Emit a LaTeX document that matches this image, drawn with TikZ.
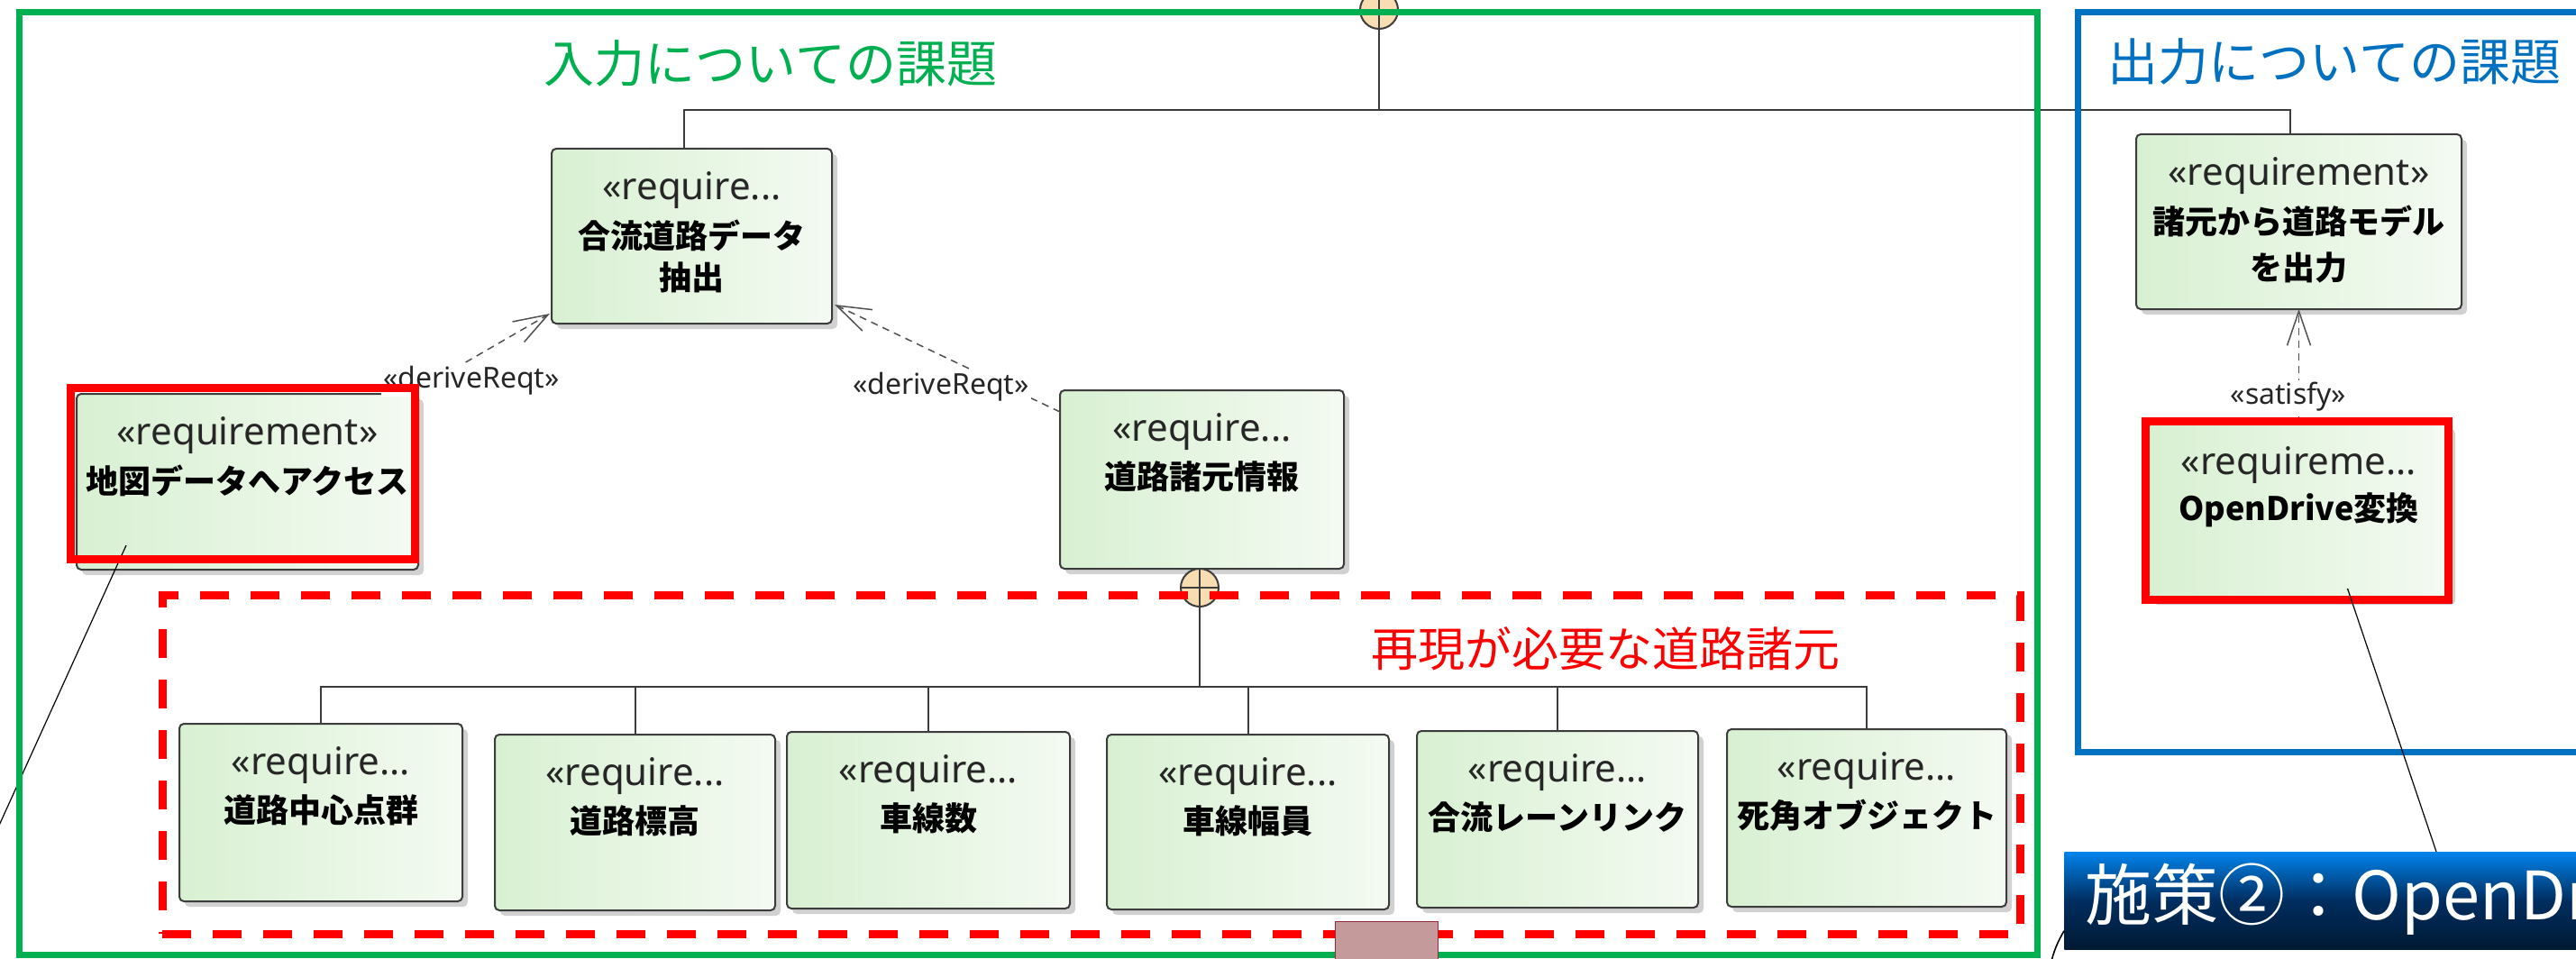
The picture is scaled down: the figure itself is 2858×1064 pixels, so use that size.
\documentclass[tikz,border=0pt]{standalone}
\usepackage{fontspec}
\setmainfont{Noto Sans CJK JP}
\newfontfamily\latf{Noto Sans}
\usetikzlibrary{arrows.meta,calc,shadows}
\definecolor{gfr}{RGB}{0,176,80}
\definecolor{bfr}{RGB}{0,112,192}
\definecolor{edgec}{RGB}{60,60,60}
\definecolor{boxl}{RGB}{216,240,210}
\definecolor{boxr}{RGB}{244,250,242}
\definecolor{peach}{RGB}{248,221,178}
\definecolor{dashc}{RGB}{80,80,80}
\definecolor{brownsq}{RGB}{196,154,154}
\definecolor{brownln}{RGB}{150,40,60}
\definecolor{bantop}{RGB}{0,132,236}
\definecolor{banmid}{RGB}{0,45,95}
\definecolor{banbot}{RGB}{0,26,52}
\definecolor{hlred}{RGB}{255,0,0}
\tikzset{
  reqbox/.style={draw=edgec, line width=1pt, rounded corners=2.5pt, left color=boxl, right color=boxr,
    inner sep=0pt, outer sep=0pt,
    drop shadow={shadow xshift=3pt, shadow yshift=-3pt, fill=black, opacity=0.18}},
  stereo/.style={font=\latf\fontsize{21}{24}\selectfont, text=black!85, inner sep=0pt},
  reqname/.style={font=\bfseries\fontsize{18}{22}\selectfont, text=black, inner sep=0pt},
  conn/.style={draw=edgec, line width=1pt},
  derive/.style={draw=dashc, line width=0.75pt, dash pattern=on 4pt off 3pt,
    -{Straight Barb[length=19pt,width=13pt,line width=0.75pt]}},
  lbl/.style={font=\latf\fontsize{16}{18}\selectfont, fill=white, inner sep=1pt, text=black!85},
  note/.style={draw=black, line width=0.6pt},
  jcirc/.style={circle, minimum size=21pt, inner sep=0pt, fill=peach, draw=edgec, line width=1pt,
    path picture={\draw[edgec, line width=1pt] (path picture bounding box.north) -- (path picture bounding box.south);
                  \draw[edgec, line width=1pt] (path picture bounding box.west) -- (path picture bounding box.east);}},
  hlbox/.style={draw=hlred, line width=4.5pt, inner sep=0pt},
  grpbox/.style={draw=hlred, line width=4.5pt, dash pattern=on 16pt off 12pt, inner sep=0pt},
  frame/.style={line width=3.5pt, inner sep=0pt},
  title/.style={font=\fontsize{28}{32}\selectfont, inner sep=0pt},
  banner/.style={top color=bantop, bottom color=banbot, middle color=banmid, inner sep=0pt},
  bantext/.style={font=\fontsize{37}{40}\selectfont, text=white, inner sep=0pt},
}
\newcommand{\reqnode}[7]{%
  \node[reqbox, minimum width={(#4-#2)*0.5pt}, minimum height={(#5-#3)*0.5pt}] (#1) at ({(#2+#4)/2},{(#3+#5)/2}) {};
  \node[stereo] (#1s) at ({(#2+#4)/2},{#3+46}) {#6};
  \node[reqname] (#1n) at ({(#2+#4)/2},{#3+96}) {#7};
}
\begin{document}
\begin{tikzpicture}[x=0.5pt,y=-0.5pt]
\useasboundingbox (0,0) rectangle (2858,1064);
\fill[white] (0,0) rectangle (2858,1064);
\clip (0,0) rectangle (2858,1064);

% upper connectors
\coordinate (busA) at (759,122);
\coordinate (busB) at (1530,122);
\coordinate (busC) at (2541,122);
\coordinate (bus2) at (1331,762);

% boxes
\reqnode{jgo}{612}{165}{923}{359}{«require...}{合流道路データ}
\node[reqname] (jgo2) at (767.5,308) {抽出};
\reqnode{out}{2370}{149}{2731}{343}{«requirement»}{諸元から道路モデル}
\node[reqname] (out2) at (2550.5,297) {を出力};
\reqnode{od}{2383}{470}{2718}{665}{«requireme...}{OpenDrive変換}
\reqnode{map}{85}{437}{464}{632}{«requirement»}{地図データへアクセス}
\reqnode{spec}{1176}{433}{1491}{631}{«require...}{道路諸元情報}
\reqnode{c1}{199}{803}{513}{1000}{«require...}{道路中心点群}
\reqnode{c2}{549}{815}{860}{1010}{«require...}{道路標高}
\reqnode{c3}{873}{812}{1187}{1008}{«require...}{車線数}
\reqnode{c4}{1228}{815}{1541}{1009}{«require...}{車線幅員}
\reqnode{c5}{1572}{811}{1884}{1007}{«require...}{合流レーンリンク}
\reqnode{c6}{1916}{809}{2226}{1006}{«require...}{死角オブジェクト}

% containment connectors
\node[jcirc] (topj) at (1530,11) {};
\draw[conn] (topj.south) -- (busB);
\draw[conn] (jgo.north -| busA) -- (busA) -- (busC) -- (out.north -| busC);
\node[jcirc] (midj) at (1331,652) {};
\draw[conn] (midj.south) -- (bus2);
\draw[conn] (c1.north) |- (bus2) -| (c6.north);
\foreach \c in {c2,c3,c4,c5} { \draw[conn] (\c.north) -- (\c.north |- bus2); }

% dependency arrows
\draw[derive] ($(map.north east)+(-8,0)$) -- ($(jgo.south west)+(-2,-11)$);
\node[lbl] (d1l) at (523,422) {«deriveReqt»};
\draw[derive] ($(spec.north west)+(0,24)$) -- ($(jgo.south east)+(3,-21)$);
\node[lbl] (d2l) at (1044,429) {«deriveReqt»};
\draw[derive] (od.north) -- (out.south);
\node[lbl] (satl) at (2539,440) {«satisfy»};

% note lines
\coordinate (n1a) at (140,605);
\coordinate (n1b) at (-12,940);
\draw[note] (n1a) -- (n1b);

% frames
\node[frame, draw=gfr, minimum width={2239*0.5pt}, minimum height={1045*0.5pt}] (gframe) at (1140.5,536.5) {};
\node[frame, draw=bfr, minimum width={615*0.5pt}, minimum height={820*0.5pt}] (bframe) at (2612.5,424) {};
\node[title, text=gfr] (gt) at (855,70) {入力についての課題};
\node[title, text=bfr] (bt) at (2590,68) {出力についての課題};

% highlights
\node[hlbox, minimum width={382*0.5pt}, minimum height={190*0.5pt}] (maphl) at (269,525) {};
\node[hlbox, minimum width={336*0.5pt}, minimum height={198*0.5pt}] (odhl) at (2548,566) {};
\node[grpbox, minimum width={2061*0.5pt}, minimum height={376*0.5pt}] (grp) at (1210.5,848) {};
\node[font=\fontsize{26}{30}\selectfont, text=hlred, inner sep=0pt] (grpl) at (1781,720) {再現が必要な道路諸元};

% banner
\node[banner, anchor=north west, minimum width=300pt, minimum height=54pt] (banner) at (2290,945) {};
\node[bantext, anchor=west] (bant) at (2313,998) {施策②：OpenDrive};
\draw[note] ($(od.south)+(54,-12)$) -- ($(banner.north west)+(413,0)$);
\coordinate (bcurve) at (2275,1070);
\draw[note, line width=0.8pt] ($(banner.south west)+(0,-21)$) to[bend right=8] (bcurve);

% brown square
\node[fill=brownsq, draw=brownln, line width=0.5pt, minimum width={114*0.5pt}, minimum height={53*0.5pt}, inner sep=0pt] (sq) at (1538,1048.5) {};
\end{tikzpicture}
\end{document}
